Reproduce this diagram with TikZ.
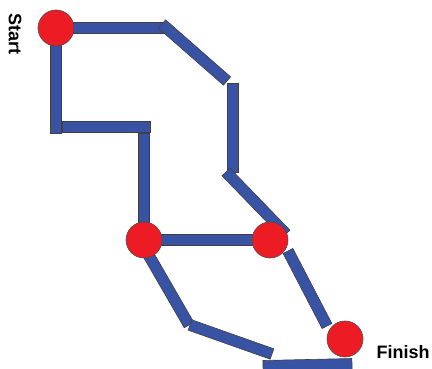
\documentclass[tikz,border=0pt]{standalone}
\usepackage{fontspec}
\setmainfont{Liberation Sans}
\usetikzlibrary{calc}
\definecolor{pipeblue}{RGB}{57,83,164}
\definecolor{nodered}{RGB}{237,28,36}
\tikzset{
	pipe/.style={fill=pipeblue, draw=black!75, line width=0.6pt},
	junction/.style={circle, fill=nodered, draw=black!70, line width=0.6pt, minimum size=36pt, inner sep=0pt},
	tag/.style={font=\bfseries\fontsize{18}{20}\selectfont, inner sep=0pt}
}
\def\segbar[#1](#2)(#3){\draw[pipe,#1] ($(#2)!5.5pt!90:(#3)$) -- ($(#3)!5.5pt!-90:(#2)$) -- ($(#3)!5.5pt!90:(#2)$) -- ($(#2)!5.5pt!-90:(#3)$) -- cycle;}

\begin{document}
\begin{tikzpicture}[x=1pt, y=-1pt]
			\useasboundingbox (0, 0) rectangle (432, 369);
			%%%%% START %%%%%
			\coordinate (start) at (56, 28);
			\coordinate (midl) at (144, 240);
			\coordinate (midr) at (270, 240);
			\coordinate (finish) at (345, 339);
			
			% upper right route
			\coordinate (t1) at (165, 28);
			\coordinate (d1a) at (162, 24);
			\coordinate (d1b) at (227, 81);
			\coordinate (v1a) at (233, 83);
			\coordinate (v1b) at (233, 172);
			\coordinate (d2a) at (226, 172);
			\coordinate (d2b) at (286, 234);
			
			% upper left route
			\coordinate (l1) at (56, 133);
			\coordinate (h1a) at (62, 127);
			\coordinate (h1b) at (150, 127);
			\coordinate (v2a) at (144, 133);
			
			% lower routes
			\coordinate (m1a) at (148, 254);
			\coordinate (m1b) at (189, 325);
			\coordinate (m2a) at (190, 325);
			\coordinate (m2b) at (272, 354);
			\coordinate (b1a) at (263, 366);
			\coordinate (b1b) at (352, 364);
			\coordinate (r1a) at (288, 251);
			\coordinate (r1b) at (327, 326);
			
			\segbar[](start)(t1);
			\segbar[](d1a)(d1b);
			\segbar[](v1a)(v1b);
			\segbar[](d2a)(d2b);
			
			\segbar[](start)(l1);
			\segbar[](h1a)(h1b);
			\segbar[](v2a)(midl);
			
			\segbar[](midl)(midr);
			
			\segbar[](m1a)(m1b);
			\segbar[](m2a)(m2b);
			\segbar[](b1a)(b1b);
			\segbar[](r1a)(r1b);
			
			\node[junction] (startdot) at (start) {};
			\node[junction] (midldot) at (midl) {};
			\node[junction] (midrdot) at (midr) {};
			\node[junction] (finishdot) at (finish) {};
			
			\node[tag, rotate=-90] (startlabel) at (15, 34) {Start};
			\node[tag] (finishlabel) at (403, 352.5) {Finish};
			%%%%% END %%%%%
\end{tikzpicture}
\end{document}
